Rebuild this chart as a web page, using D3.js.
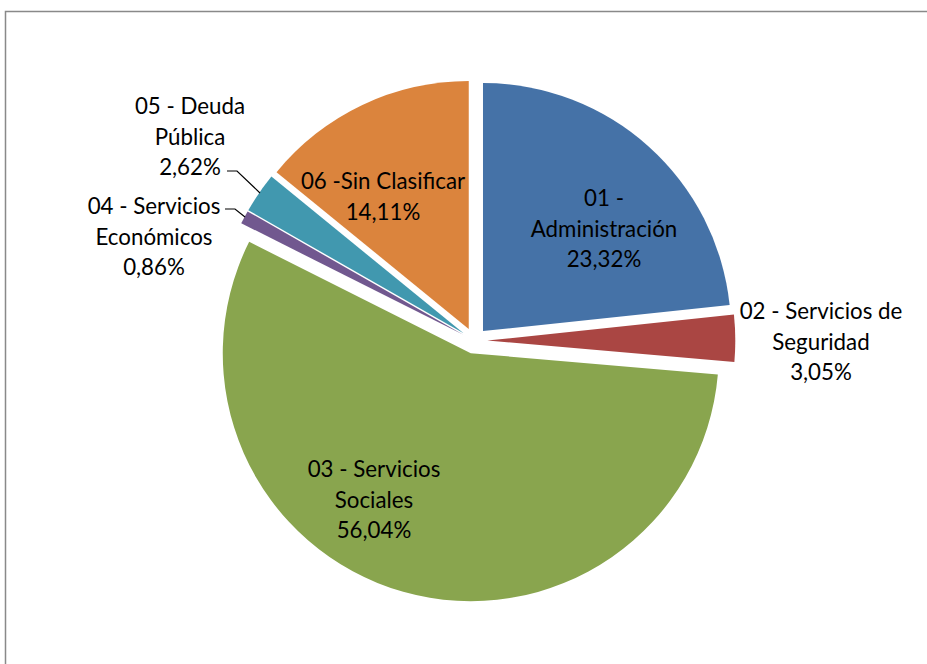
<!DOCTYPE html>
<html>
<head>
<meta charset="utf-8">
<script src="https://cdn.jsdelivr.net/npm/d3@7"></script>
<style>
  body { margin: 0; background: #fff; }
  text { font-family: Lato, "Open Sans", sans-serif; fill: #000; }
</style>
</head>
<body>
<svg id="chart" width="927" height="664"></svg>
<script>
const categories = ["01 - Administración", "02 - Servicios de Seguridad", "03 - Servicios Sociales",
  "04 - Servicios Económicos", "05 - Deuda Pública", "06 -Sin Clasificar"];
const values = [23.32, 3.05, 56.04, 0.86, 2.62, 14.11];
const colors = ["#4572A7", "#AA4643", "#89A54E", "#71588F", "#4198AF", "#DB843D"];
// label lines as Excel wrapped them
const labelLines = [
  ["01 -", "Administración"],
  ["02 - Servicios de", "Seguridad"],
  ["03 - Servicios", "Sociales"],
  ["04 - Servicios", "Económicos"],
  ["05 - Deuda", "Pública"],
  ["06 -Sin Clasificar"]
];
// label centres (first line) in px
const labelPos = [[604, 197], [821, 310], [374, 468], [154, 205], [190, 105], [383, 180]];

const width = 927, height = 664;
const cx = 474.3, cy = 340.7, radius = 248, explode = 13;
const fontSize = 22.3, lineH = 30.5;

const svg = d3.select("#chart");

svg.append("rect")
  .attr("x", 5.5).attr("y", 11.5)
  .attr("width", width + 20).attr("height", height + 20)
  .attr("fill", "#fff")
  .attr("stroke", "#898989")
  .attr("stroke-width", 1.5);

const fmt = v => d3.format(".2f")(v).replace(".", ",") + "%";

const pie = d3.pie().sort(null).value(d => d.value);
const arcs = pie(categories.map((c, i) => ({ name: c, value: values[i], color: colors[i] })));
const arc = d3.arc().innerRadius(0).outerRadius(radius);

const g = svg.append("g").attr("transform", `translate(${cx},${cy})`);

g.selectAll("path")
  .data(arcs)
  .join("path")
  .attr("d", arc)
  .attr("fill", d => d.data.color)
  .attr("transform", d => {
    const a = (d.startAngle + d.endAngle) / 2;
    return `translate(${explode * Math.sin(a)},${-explode * Math.cos(a)})`;
  });

// leader lines for the two thin slices
const leaders = [
  null, null, null,
  [[225, 209], [235, 209], [245, 217]],
  [[227, 171], [237, 171], [260, 193]],
  null
];
svg.selectAll("path.leader")
  .data(leaders.filter(d => d))
  .join("path")
  .attr("class", "leader")
  .attr("d", d3.line())
  .attr("fill", "none")
  .attr("stroke", "#000")
  .attr("stroke-width", 1.2);

const labels = svg.selectAll("text.lbl")
  .data(arcs)
  .join("text")
  .attr("class", "lbl")
  .attr("text-anchor", "middle")
  .attr("font-size", fontSize)
  .attr("dominant-baseline", "central");

labels.each(function (d, i) {
  const t = d3.select(this);
  const lines = labelLines[i].concat([fmt(d.data.value)]);
  lines.forEach((l, k) => {
    t.append("tspan")
      .attr("x", labelPos[i][0])
      .attr("y", labelPos[i][1] + k * lineH)
      .text(l);
  });
});
</script>
</body>
</html>
